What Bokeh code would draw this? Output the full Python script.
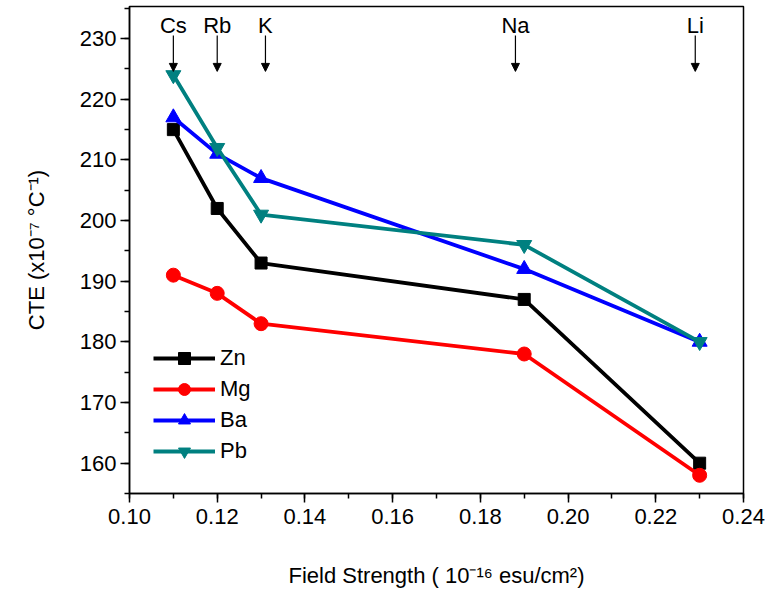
from bokeh.plotting import figure
from bokeh.models import (ColumnDataSource, Arrow, NormalHead, SingleIntervalTicker,
                          Range1d, Legend, CustomJSTickFormatter)
from bokeh.core.properties import value
from bokeh.embed import file_html
from bokeh.resources import INLINE

# ---- data ----
field_strength = [0.11, 0.12, 0.13, 0.19, 0.23]
zn = [215, 202, 193, 187, 160]
mg = [191, 188, 183, 178, 158]
ba = [217, 211, 207, 192, 180]
pb = [224, 212, 201, 196, 180]

ions = ["Cs", "Rb", "K", "Na", "Li"]
ion_x = [0.110, 0.120, 0.131, 0.188, 0.229]

FONT = "Liberation Sans"
FS = "22px"

p = figure(width=770, height=605, output_backend="svg", toolbar_location=None,
           x_range=Range1d(0.10, 0.24), y_range=Range1d(155, 235.3),
           min_border_left=129, min_border_right=27, min_border_top=6,
           min_border_bottom=112)
p.background_fill_color = "white"
p.border_fill_color = "white"
p.outline_line_color = "black"
p.outline_line_width = 1.5
p.grid.visible = False

series = [
    ("Zn", zn, "black", "square", 12),
    ("Mg", mg, "#FF0000", "circle", 14),
    ("Ba", ba, "#0000FF", "triangle", 15),
    ("Pb", pb, "#008080", "inverted_triangle", 15),
]
items = []
for name, ys, col, mk, sz in series:
    src = ColumnDataSource(dict(x=field_strength, y=ys))
    r1 = p.line("x", "y", source=src, line_color=col, line_width=3.8)
    r2 = p.scatter("x", "y", source=src, marker=mk, size=sz,
                   fill_color=col, line_color=col)
    items.append((name, [r1, r2]))

legend = Legend(items=items, location=(24, 27), padding=0, margin=0,
                spacing=1, glyph_width=62, glyph_height=30, label_standoff=5,
                label_text_font=FONT, label_text_font_size=FS,
                label_text_color="black",
                border_line_color=None, background_fill_alpha=0)
p.add_layout(legend, "center")

# ion arrows and labels
for xi in ion_x:
    p.add_layout(Arrow(x_start=xi, y_start=230.5, x_end=xi, y_end=224.6,
                       line_width=1.2, line_color="black",
                       end=NormalHead(size=8, fill_color="black", line_color="black")))
p.text(x=ion_x, y=[232.2] * len(ion_x), text=ions, text_align="center",
       text_baseline="middle", text_font=value(FONT), text_font_size=FS,
       text_color="black")

# axes
p.xaxis.ticker = SingleIntervalTicker(interval=0.02, num_minor_ticks=2)
p.yaxis.ticker = SingleIntervalTicker(interval=10, num_minor_ticks=2)
p.xaxis.formatter = CustomJSTickFormatter(code="return tick.toFixed(2);")
for ax in (p.xaxis[0], p.yaxis[0]):
    ax.axis_line_width = 1.5
    ax.major_tick_line_width = 1.5
    ax.minor_tick_line_width = 1.5
    ax.major_tick_out = 9
    ax.major_tick_in = 0
    ax.minor_tick_out = 5
    ax.minor_tick_in = 0
    ax.major_label_text_font = FONT
    ax.major_label_text_font_size = FS
    ax.major_label_text_color = "black"
    ax.axis_label_text_font = FONT
    ax.axis_label_text_font_size = FS
    ax.axis_label_text_font_style = "normal"
    ax.axis_label_text_color = "black"

p.yaxis.axis_label = "CTE (x10⁻⁷ °C⁻¹)"
p.yaxis.axis_label_standoff = 28
p.yaxis.major_label_standoff = 4
p.xaxis.axis_label = "Field Strength ( 10⁻¹⁶ esu/cm²)"
p.xaxis.axis_label_standoff = 36
p.xaxis.major_label_standoff = 6

open("out.html", "w").write(file_html(p, INLINE))
